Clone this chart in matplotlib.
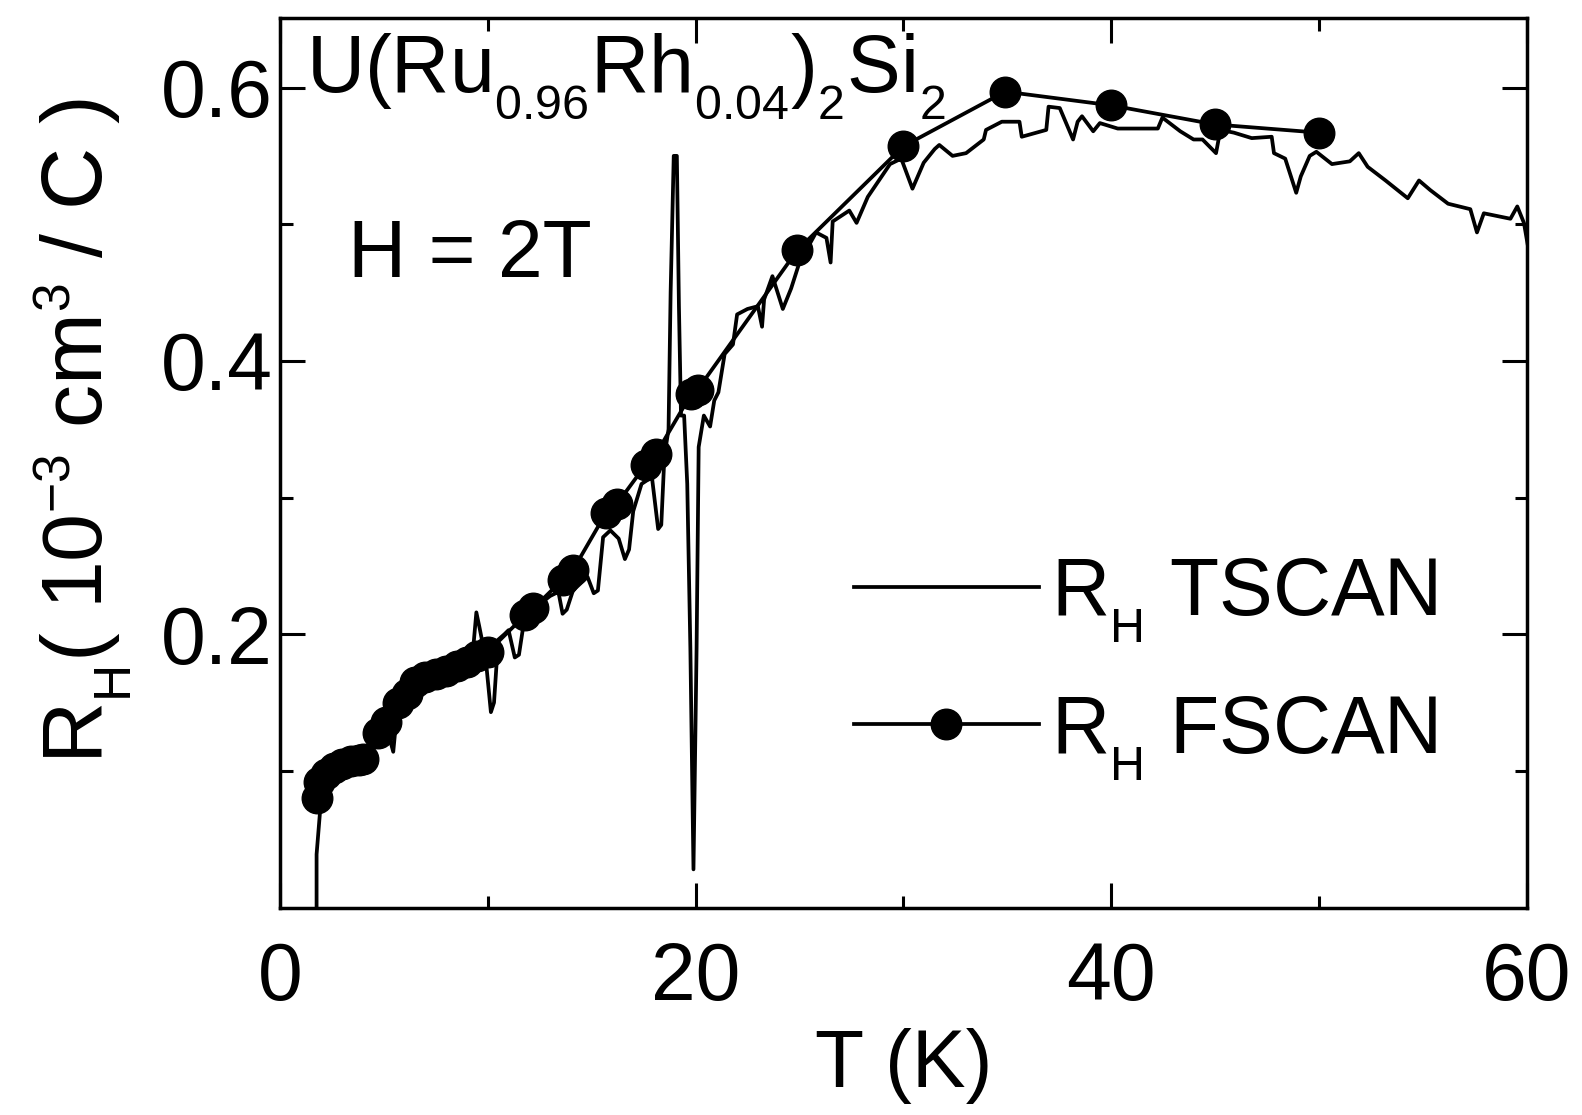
import numpy as np
import matplotlib
matplotlib.use('Agg')
import matplotlib.pyplot as plt
import matplotlib._mathtext as mt

plt.rcParams['font.family'] = ['Liberation Sans', 'DejaVu Sans']
plt.rcParams['mathtext.fontset'] = 'custom'
plt.rcParams['mathtext.rm'] = 'Liberation Sans'
plt.rcParams['mathtext.it'] = 'Liberation Sans:italic'

# smaller, lower sub/superscripts like the original figure
mt.SHRINK_FACTOR = 0.6
mt.FontConstantsBase.sub1 = 0.65

# temperature scan (continuous sweep)
t_tscan = [1.76, 1.76, 1.92, 2.0, 2.5, 3.0, 3.5, 4.0, 4.4, 4.8, 5.2, 5.45, 5.6, 6.0, 6.3,
           6.6, 7.5, 8.5, 9.3, 9.45, 9.6, 9.9, 10.15, 10.3, 10.5, 10.8, 11.0, 11.3, 11.5,
           11.7, 12.5, 13.0, 13.4, 13.6, 13.8, 14.1, 14.8, 15.1, 15.3, 15.55, 15.9, 16.3,
           16.6, 16.8, 17.0, 17.4, 17.9, 18.2, 18.35, 18.5, 18.7, 18.8, 18.95, 19.1, 19.2,
           19.3, 19.45, 19.6, 19.75, 19.9, 20.05, 20.15, 20.4, 20.7, 20.9, 21.1, 21.4, 21.8,
           22.0, 22.5, 23.0, 23.2, 23.3, 23.7, 24.2, 24.6, 25.0, 25.8, 26.3, 26.5, 26.6,
           27.4, 27.75, 28.29, 29.36, 29.9, 30.44, 30.98, 31.51, 31.73, 32.37, 33.02, 33.87,
           33.98, 34.74, 35.59, 35.70, 36.88, 36.99, 37.53, 38.17, 38.39, 38.60, 39.14, 39.46,
           40.32, 42.25, 42.47, 43.33, 43.97, 44.40, 45.05, 45.26, 45.91, 46.77, 47.73, 47.84,
           48.38, 48.91, 49.13, 49.56, 49.88, 50.63, 51.49, 51.92, 52.35, 53.21, 54.28, 54.82,
           55.36, 56.22, 57.29, 57.61, 57.94, 59.22, 59.55, 59.87, 60.04]
r_tscan = [-0.01, 0.039, 0.069, 0.090, 0.100, 0.104, 0.107, 0.109, 0.118, 0.130, 0.128, 0.114,
           0.138, 0.152, 0.150, 0.162, 0.170, 0.176, 0.190, 0.216, 0.205, 0.182, 0.143, 0.150,
           0.196, 0.200, 0.203, 0.183, 0.185, 0.205, 0.222, 0.228, 0.231, 0.215, 0.218, 0.232,
           0.242, 0.230, 0.232, 0.271, 0.276, 0.270, 0.255, 0.262, 0.290, 0.310, 0.315, 0.277,
           0.280, 0.330, 0.350, 0.450, 0.550, 0.550, 0.440, 0.360, 0.360, 0.310, 0.190, 0.028,
           0.190, 0.337, 0.360, 0.352, 0.371, 0.377, 0.405, 0.412, 0.434, 0.438, 0.440, 0.425,
           0.445, 0.462, 0.438, 0.453, 0.472, 0.494, 0.490, 0.472, 0.502, 0.510, 0.501, 0.520,
           0.544, 0.548, 0.526, 0.545, 0.555, 0.558, 0.550, 0.552, 0.562, 0.569, 0.575, 0.575,
           0.564, 0.569, 0.586, 0.585, 0.562, 0.575, 0.579, 0.568, 0.574, 0.570, 0.570, 0.578,
           0.568, 0.562, 0.562, 0.552, 0.569, 0.567, 0.563, 0.564, 0.552, 0.548, 0.523, 0.535,
           0.550, 0.553, 0.544, 0.546, 0.552, 0.542, 0.532, 0.519, 0.532, 0.525, 0.515, 0.511,
           0.494, 0.508, 0.504, 0.513, 0.501, 0.486]

# field scans at fixed temperature
t_fscan = [1.76, 1.9, 2.2, 2.6, 3.0, 3.4, 3.8, 4.0, 4.7, 5.1, 5.7, 6.1, 6.5, 7.0, 7.5, 8.0,
           8.5, 9.0, 9.5, 10.0, 11.8, 12.2, 13.6, 14.1, 15.7, 16.2, 17.6, 18.1, 19.8, 20.1,
           24.9, 30.0, 34.9, 40.0, 45.0, 50.0]
r_fscan = [0.080, 0.092, 0.098, 0.102, 0.105, 0.107, 0.108, 0.109, 0.128, 0.136, 0.150, 0.156,
           0.165, 0.169, 0.171, 0.173, 0.177, 0.180, 0.184, 0.187, 0.214, 0.219, 0.240, 0.247,
           0.289, 0.295, 0.324, 0.332, 0.376, 0.379, 0.481, 0.557, 0.597, 0.587, 0.573, 0.567]

fs = 58

fig = plt.figure(figsize=(15.82, 11.15), dpi=100)
ax = fig.add_axes([0.177, 0.186, 0.788, 0.798])

ax.plot(t_tscan, r_tscan, 'k-', linewidth=2.7, label=r'$\mathregular{R_H}$ TSCAN')
ax.plot(t_fscan, r_fscan, 'k-', marker='o', markersize=22, linewidth=2.7,
        label=r'$\mathregular{R_H}$ FSCAN')

ax.set_xlim(0, 60)
ax.set_ylim(0, 0.651)
ax.set_xticks([0, 20, 40, 60])
ax.set_xticks([10, 30, 50], minor=True)
ax.set_yticks([0.2, 0.4, 0.6])
ax.set_yticks([0.1, 0.3, 0.5], minor=True)
ax.set_yticklabels(['0.2', '0.4', '0.6'])

ax.tick_params(which='both', direction='in', top=True, right=True, width=2.2,
               labelsize=fs)
ax.tick_params(which='major', length=18)
ax.tick_params(which='minor', length=9)
ax.tick_params(axis='x', pad=24)
ax.tick_params(axis='y', pad=5)
for s in ax.spines.values():
    s.set_linewidth(2.5)

ax.set_xlabel('T (K)', fontsize=fs, labelpad=8)
ax.set_ylabel(r'$\mathregular{R_H(\ 10^{-3}\ cm^3\ /\ C\ )}$', fontsize=62)
ax.yaxis.label.set_va('center')
ax.yaxis.set_label_coords(-0.157, 0.536)

ax.text(0.021, 0.917, r'$\mathregular{U(Ru_{0.96}Rh_{0.04})_2Si_2}$', transform=ax.transAxes,
        fontsize=fs, va='baseline', ha='left')
ax.text(0.0545, 0.709, 'H = 2T', transform=ax.transAxes, fontsize=fs,
        va='baseline', ha='left')

ax.legend(loc='upper left', bbox_to_anchor=(0.428, 0.44), frameon=False, fontsize=fs,
          handlelength=2.3, handletextpad=0.15, labelspacing=0.6, borderpad=0,
          markerscale=1.0)

fig.savefig('out.png', dpi=100)
